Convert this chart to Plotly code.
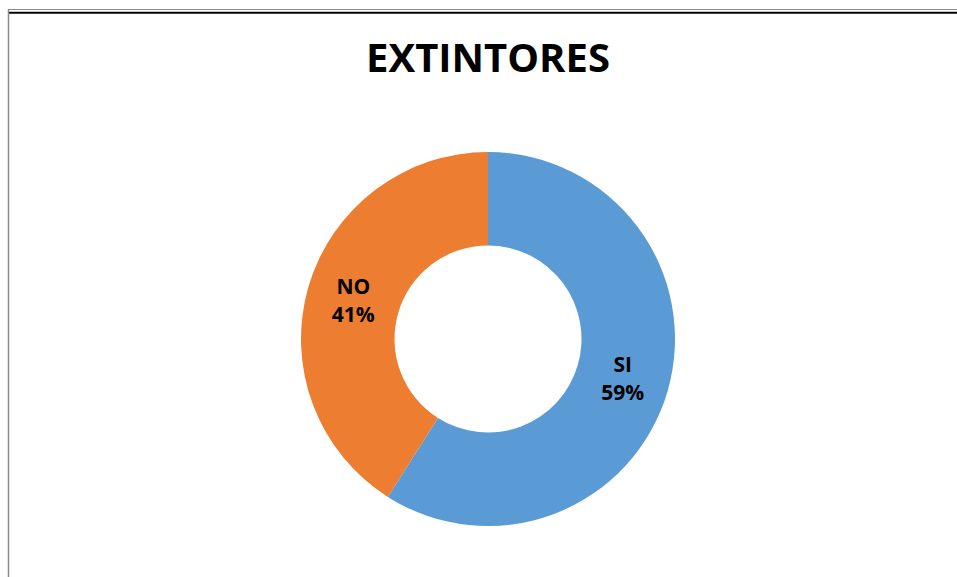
import plotly.graph_objects as go

# Datos
categorias = ['SI', 'NO']
valores = [59, 41]
colores = ['#5B9BD5', '#ED7D31']

W, H = 957, 577

fig = go.Figure()

fig.add_trace(go.Pie(
    labels=categorias,
    values=valores,
    hole=0.5,
    sort=False,
    direction='clockwise',
    rotation=0,
    marker=dict(colors=colores, line=dict(width=0)),
    textinfo='label+percent',
    texttemplate='<b>%{label}<br>%{percent:.0%}</b>',
    textposition='inside',
    insidetextorientation='horizontal',
    textfont=dict(family='Open Sans', size=21, color='#000000'),
    domain=dict(x=[(488 - 187) / W, (488 + 187) / W],
                y=[1 - 526 / H, 1 - 152 / H]),
    showlegend=False,
))

# Marco del recorte
fig.add_shape(type='line', xref='paper', yref='paper',
              x0=8 / W, x1=1, y0=1 - 9.5 / H, y1=1 - 9.5 / H,
              line=dict(color='#8a8a8a', width=1))
fig.add_shape(type='line', xref='paper', yref='paper',
              x0=8 / W, x1=1, y0=1 - 12.8 / H, y1=1 - 12.8 / H,
              line=dict(color='#000000', width=2))
fig.add_shape(type='line', xref='paper', yref='paper',
              x0=8.5 / W, x1=8.5 / W, y0=0, y1=1 - 9.5 / H,
              line=dict(color='#8a8a8a', width=1.5))

fig.update_layout(
    title=dict(text='<b>EXTINTORES</b>', x=488 / W, xanchor='center',
               y=1 - 57.5 / H, yanchor='middle', yref='container',
               font=dict(family='Open Sans', size=40, color='#000000')),
    width=W,
    height=H,
    margin=dict(l=0, r=0, t=0, b=0),
    paper_bgcolor='#ffffff',
    plot_bgcolor='#ffffff',
)

fig.write_html("out.html", config={'displayModeBar': False},
               post_script="document.body.style.margin='0';")
